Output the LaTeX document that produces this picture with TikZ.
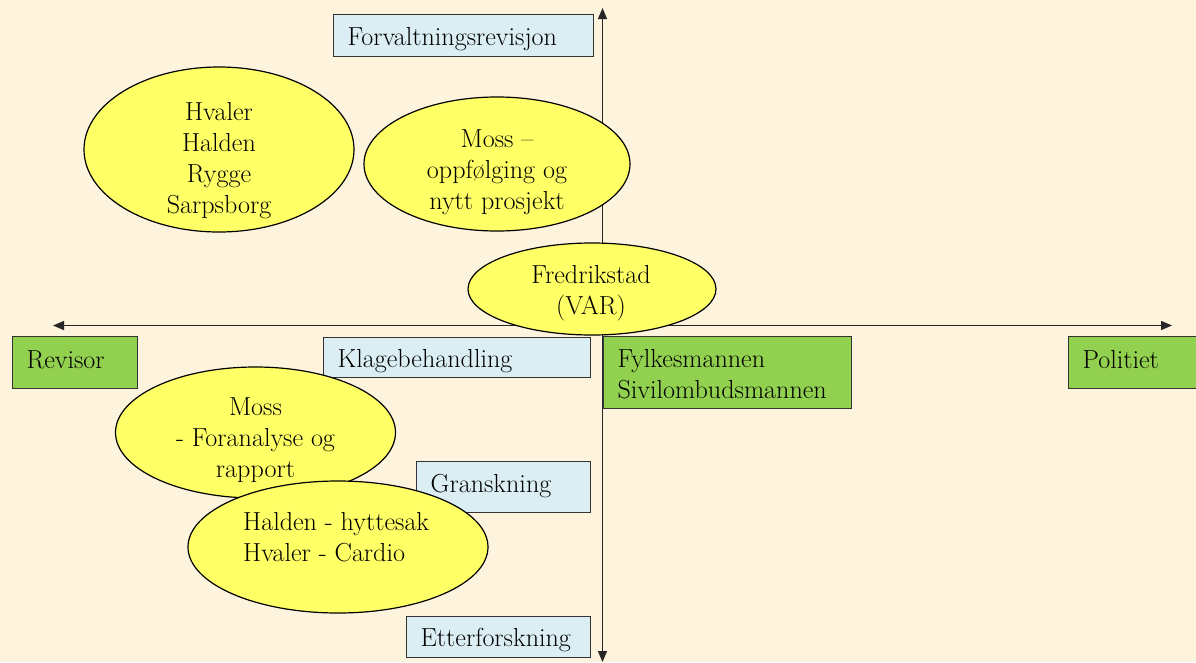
\documentclass[tikz,border=0pt]{standalone}
\usepackage{fontspec}
\usetikzlibrary{shapes.geometric,arrows.meta}
\definecolor{bgcream}{RGB}{254,243,220}
\definecolor{boxblue}{RGB}{218,238,243}
\definecolor{boxgreen}{RGB}{146,208,80}
\definecolor{ovalyellow}{RGB}{255,255,102}
\tikzset{
  axisline/.style={line width=1.3pt, draw=black!85,
    {Triangle[length=11pt,width=9pt]}-{Triangle[length=11pt,width=9pt]}},
  tag/.style={draw=black!80, line width=1.2pt, anchor=north west,
    inner xsep=14pt, inner ysep=0pt, align=left, text height=31pt},
  bluetag/.style={tag, fill=boxblue},
  greentag/.style={tag, fill=boxgreen},
  oval/.style={ellipse, draw=black, line width=1.2pt, fill=ovalyellow, inner sep=0pt},
  ovaltext/.style={inner sep=0pt, align=center},
}
\begin{document}
\begin{tikzpicture}[x=1pt, y=-1pt, font=\fontsize{26.1}{31}\selectfont]
\fill[bgcream] (0,0) rectangle (1196,662);
\useasboundingbox (0,0) rectangle (1196,662);
\clip (0,0) rectangle (1196,662);

% axes
\coordinate (ytop) at (602.5,8);
\coordinate (ybot) at (602.5,662);
\coordinate (xl) at (53,325.5);
\coordinate (xr) at (1172,325.5);
\draw[axisline] (ybot) -- (ytop);
\draw[axisline] (xl) -- (xr);

% boxes
\node[bluetag, text width=232pt, text depth=11pt] (forv) at (333,14) {Forvaltningsrevisjon};
\node[bluetag, text width=239pt, text height=30pt, text depth=10pt] (klage) at (323,337) {Klagebehandling};
\node[greentag, text width=97pt, text height=32pt, text depth=20pt] (rev) at (12,336) {Revisor};
\node[greentag, text width=112pt, text height=32pt, text depth=20pt] (pol) at (1068,336) {Politiet};
\node[greentag, text width=220pt, text depth=41pt] (fylke) at (603,336) {Fylkesmannen\\Sivilombudsmannen};
\node[bluetag, text width=146pt, text depth=20pt] (gransk) at (416,461) {Granskning};
\node[bluetag, text width=156pt, text height=30pt, text depth=11pt] (etter) at (406,616) {Etterforskning};

% ellipses
\node[oval, minimum width=270pt, minimum height=165pt] (hv) at (219,149.5) {};
\node[ovaltext] (hvt) at (219,161) {Hvaler\\Halden\\Rygge\\Sarpsborg};
\node[oval, minimum width=266pt, minimum height=134pt] (mo) at (497,164) {};
\node[ovaltext] (mot) at (497,172) {Moss –\\oppfølging og\\nytt prosjekt};
\node[oval, minimum width=248pt, minimum height=92pt] (fr) at (592,289) {};
\node[ovaltext] (frt) at (591,293.5) {Fredrikstad\\(VAR)};
\node[oval, minimum width=280pt, minimum height=131pt] (mf) at (255.5,432.5) {};
\node[ovaltext] (mft) at (255.5,440) {Moss\\- Foranalyse og\\rapport};
\node[oval, minimum width=300pt, minimum height=132pt] (ha) at (338,547) {};
\node[ovaltext, align=left, anchor=west] (hat) at (243,537) {Halden - hyttesak\\Hvaler - Cardio};
\end{tikzpicture}
\end{document}
